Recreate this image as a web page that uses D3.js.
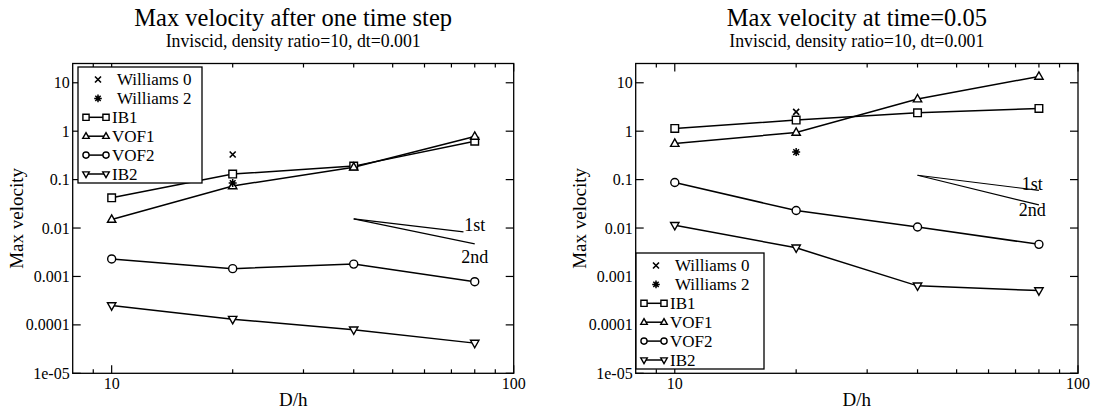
<!DOCTYPE html>
<html>
<head>
<meta charset="utf-8">
<script src="https://cdn.jsdelivr.net/npm/d3@7/dist/d3.min.js"></script>
<style>
  html, body { margin: 0; padding: 0; background: #fff; }
  svg { display: block; }
  text { font-family: "Liberation Serif", "Times New Roman", serif; fill: #000; }
</style>
</head>
<body>
<svg id="chart" width="1094" height="410"></svg>
<script>
// ---------------- DATA ----------------
const resolutions = [10, 20, 40, 80];           // D/h
const xMajorTicks = [10, 100];
const xMinorTicks = [9, 20, 30, 40, 50, 60, 70, 80, 90];
const yTicks = [1e-5, 1e-4, 1e-3, 1e-2, 1e-1, 1, 10];
const yTickLabels = ["1e-05", "0.0001", "0.001", "0.01", "0.1", "1", "10"];
const seriesNames = ["Williams 0", "Williams 2", "IB1", "VOF1", "VOF2", "IB2"];

// Panel 1: after one time step
const p1_williams0 = [[20, 0.33]];
const p1_williams2 = [[20, 0.085]];
const p1_IB1  = [0.042, 0.13, 0.19, 0.62];
const p1_VOF1 = [0.015, 0.074, 0.18, 0.78];
const p1_VOF2 = [0.0023, 0.00145, 0.0018, 0.00078];
const p1_IB2  = [0.00025, 0.000131, 0.000079, 0.000042];
const p1_slopeStart = [40, 0.0155];
const p1_slope1End  = [75, 0.0083];
const p1_slope2End  = [80, 0.0047];
const p1_label1st = [80, 0.0086];
const p1_label2nd = [80, 0.0019];

// Panel 2: at time = 0.05
const p2_williams0 = [[20, 2.5]];
const p2_williams2 = [[20, 0.37]];
const p2_IB1  = [1.14, 1.7, 2.4, 2.95];
const p2_VOF1 = [0.556, 0.94, 4.6, 13.5];
const p2_VOF2 = [0.087, 0.023, 0.0105, 0.0046];
const p2_IB2  = [0.0114, 0.0039, 0.00064, 0.00051];
const p2_slopeStart = [40, 0.123];
const p2_slope1End  = [80, 0.06];
const p2_slope2End  = [80, 0.03];
const p2_label1st = [77, 0.062];
const p2_label2nd = [77, 0.0175];

const titles = ["Max velocity after one time step", "Max velocity at time=0.05"];
const subtitle = "Inviscid, density ratio=10, dt=0.001";
const xLabel = "D/h";
const yLabel = "Max velocity";

// ---------------- DRAWING ----------------
const svg = d3.select("#chart");

function markerPath(type, r) {
  if (type === "square") return `M${-r},${-r}H${r}V${r}H${-r}Z`;
  if (type === "up") return `M0,${-r*1.15}L${r*1.05},${r*0.7}L${-r*1.05},${r*0.7}Z`;
  if (type === "down") return `M0,${r*1.15}L${r*1.05},${-r*0.7}L${-r*1.05},${-r*0.7}Z`;
  if (type === "circle") return d3.symbol(d3.symbolCircle, Math.PI * r * r)();
  if (type === "times") return `M${-r},${-r}L${r},${r}M${-r},${r}L${r},${-r}`;
  if (type === "star") {
    let p = "";
    for (let i = 0; i < 4; i++) {
      const a = i * Math.PI / 4;
      p += `M${-r*Math.cos(a)},${-r*Math.sin(a)}L${r*Math.cos(a)},${r*Math.sin(a)}`;
    }
    return p;
  }
}

function drawMarker(g, type, x, y, r) {
  const filled = type === "times" || type === "star";
  g.append("path")
    .attr("d", markerPath(type, r))
    .attr("transform", `translate(${x},${y})`)
    .attr("fill", filled ? "none" : "#fff")
    .attr("stroke", "#000")
    .attr("stroke-width", type === "star" ? 1.5 : (type === "times" ? 1.6 : 1.4));
}

function drawPanel(cfg) {
  const x = d3.scaleLog().domain([8, 100]).range([cfg.x0, cfg.x1]);
  const y = d3.scaleLog().domain([1e-5, 25]).range([cfg.y1, cfg.y0]);
  const g = svg.append("g");
  const cx = (cfg.x0 + cfg.x1) / 2;

  // titles
  g.append("text").attr("x", cx).attr("y", 26).attr("text-anchor", "middle")
    .style("font-size", "24.5px").text(cfg.title);
  g.append("text").attr("x", cx).attr("y", 47).attr("text-anchor", "middle")
    .style("font-size", "17.8px").text(subtitle);

  // frame
  g.append("rect").attr("x", cfg.x0).attr("y", cfg.y0)
    .attr("width", cfg.x1 - cfg.x0).attr("height", cfg.y1 - cfg.y0)
    .attr("fill", "none").attr("stroke", "#000").attr("stroke-width", 1.3);

  // x ticks (bottom and top, inward)
  const xt = xMajorTicks.map(v => ({v, len: 8})).concat(xMinorTicks.map(v => ({v, len: 4})));
  xt.forEach(t => {
    const px = x(t.v);
    g.append("line").attr("x1", px).attr("x2", px).attr("y1", cfg.y1).attr("y2", cfg.y1 - t.len)
      .attr("stroke", "#000").attr("stroke-width", 1.2);
    g.append("line").attr("x1", px).attr("x2", px).attr("y1", cfg.y0).attr("y2", cfg.y0 + t.len)
      .attr("stroke", "#000").attr("stroke-width", 1.2);
  });
  xMajorTicks.forEach(v => {
    g.append("text").attr("x", x(v)).attr("y", 389).attr("text-anchor", "middle")
      .style("font-size", "16px").text(d3.format("d")(v));
  });

  // y ticks (left and right, inward)
  yTicks.forEach((v, i) => {
    const py = y(v);
    g.append("line").attr("x1", cfg.x0).attr("x2", cfg.x0 + 8).attr("y1", py).attr("y2", py)
      .attr("stroke", "#000").attr("stroke-width", 1.2);
    g.append("line").attr("x1", cfg.x1).attr("x2", cfg.x1 - 8).attr("y1", py).attr("y2", py)
      .attr("stroke", "#000").attr("stroke-width", 1.2);
    g.append("text").attr("x", cfg.x0 - 3).attr("y", py + 5.5).attr("text-anchor", "end")
      .style("font-size", "16px").text(yTickLabels[i]);
  });

  // axis labels
  g.append("text").attr("x", cx).attr("y", 406).attr("text-anchor", "middle")
    .style("font-size", "19px").text(xLabel);
  g.append("text")
    .attr("transform", `translate(${cfg.x0 - 49.5},${(cfg.y0 + cfg.y1) / 2}) rotate(-90)`)
    .attr("text-anchor", "middle").style("font-size", "19px").text(yLabel);

  // slope guide lines
  const guide = g.append("g").attr("stroke", "#000").attr("stroke-width", 1.2);
  [cfg.s1, cfg.s2].forEach(e => {
    guide.append("line")
      .attr("x1", x(cfg.s0[0])).attr("y1", y(cfg.s0[1]))
      .attr("x2", x(e[0])).attr("y2", y(e[1]));
  });
  g.append("text").attr("x", x(cfg.l1[0])).attr("y", y(cfg.l1[1])).attr("text-anchor", "middle")
    .style("font-size", "18px").text("1st");
  g.append("text").attr("x", x(cfg.l2[0])).attr("y", y(cfg.l2[1])).attr("text-anchor", "middle")
    .style("font-size", "18px").text("2nd");

  // line series
  const line = d3.line().x((d, i) => x(resolutions[i])).y(d => y(d));
  cfg.series.forEach(s => {
    g.append("path").datum(s.values).attr("d", line)
      .attr("fill", "none").attr("stroke", "#000").attr("stroke-width", 1.5);
  });
  cfg.series.forEach(s => {
    s.values.forEach((v, i) => drawMarker(g, s.marker, x(resolutions[i]), y(v), s.marker === "square" ? 3.8 : 4));
  });
  // scatter-only series
  cfg.w0.forEach(d => drawMarker(g, "times", x(d[0]), y(d[1]), 3));
  cfg.w2.forEach(d => drawMarker(g, "star", x(d[0]), y(d[1]), 4));

  // legend
  const L = cfg.legend;
  const lg = g.append("g");
  lg.append("rect").attr("x", L.x).attr("y", L.y).attr("width", L.w).attr("height", L.h)
    .attr("fill", "#fff").attr("stroke", "#000").attr("stroke-width", 1.3);
  const types = ["times", "star", "square", "up", "circle", "down"];
  const pitch = 18.9;
  seriesNames.forEach((name, i) => {
    const ry = L.y + 12.5 + i * pitch;
    const t = types[i];
    if (i < 2) {
      drawMarker(lg, t, L.x + 20, ry, t === "times" ? 3 : 3.8);
      lg.append("text").attr("x", L.x + 39).attr("y", ry + 5.8)
        .style("font-size", "17px").text(name);
    } else {
      lg.append("line").attr("x1", L.x + 8).attr("x2", L.x + 28).attr("y1", ry).attr("y2", ry)
        .attr("stroke", "#000").attr("stroke-width", 1.5);
      drawMarker(lg, t, L.x + 8, ry, 3.1);
      drawMarker(lg, t, L.x + 28, ry, 3.1);
      lg.append("text").attr("x", L.x + 34).attr("y", ry + 5.8)
        .style("font-size", "17px").text(name);
    }
  });
}

drawPanel({
  x0: 72.7, x1: 513.7, y0: 63.5, y1: 373.3,
  title: titles[0],
  series: [
    {values: p1_IB1, marker: "square"},
    {values: p1_VOF1, marker: "up"},
    {values: p1_VOF2, marker: "circle"},
    {values: p1_IB2, marker: "down"}
  ],
  w0: p1_williams0, w2: p1_williams2,
  s0: p1_slopeStart, s1: p1_slope1End, s2: p1_slope2End,
  l1: p1_label1st, l2: p1_label2nd,
  legend: {x: 78, y: 67, w: 124, h: 116}
});

drawPanel({
  x0: 635.7, x1: 1078, y0: 63.5, y1: 373.3,
  title: titles[1],
  series: [
    {values: p2_IB1, marker: "square"},
    {values: p2_VOF1, marker: "up"},
    {values: p2_VOF2, marker: "circle"},
    {values: p2_IB2, marker: "down"}
  ],
  w0: p2_williams0, w2: p2_williams2,
  s0: p2_slopeStart, s1: p2_slope1End, s2: p2_slope2End,
  l1: p2_label1st, l2: p2_label2nd,
  legend: {x: 636, y: 253, w: 128, h: 116}
});
</script>
</body>
</html>
